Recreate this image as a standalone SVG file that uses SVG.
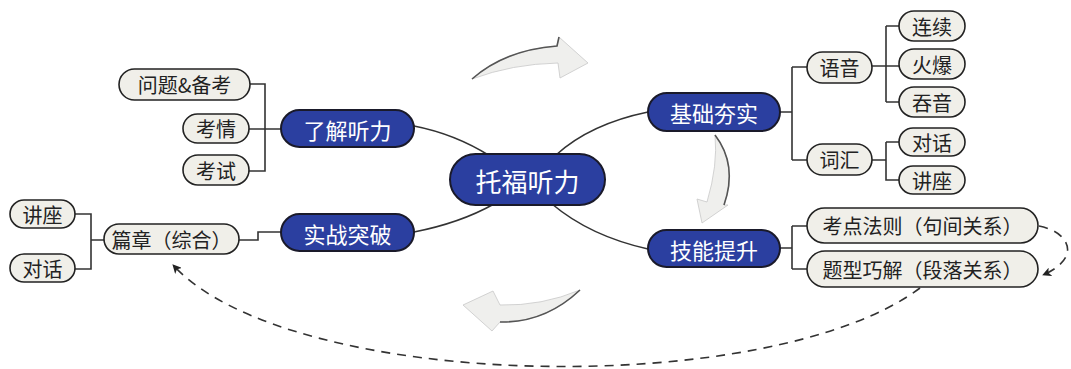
<svg xmlns="http://www.w3.org/2000/svg" width="1071" height="369" viewBox="0 0 1071 369">
<defs>
<style>
.main rect{fill:#2b3fa0;stroke:#1a1a2a;stroke-width:2}
.main text{fill:#fff;font-family:"Noto Sans CJK SC","Noto Sans",sans-serif;text-anchor:middle;dominant-baseline:central}
.leaf rect{fill:#f0efe9;stroke:#222;stroke-width:1.6}
.leaf text{fill:#222;font-family:"Noto Sans CJK SC","Noto Sans",sans-serif;font-size:20px;text-anchor:middle;dominant-baseline:central}
.ln{fill:none;stroke:#333;stroke-width:1.6}
.dash{fill:none;stroke:#333;stroke-width:1.6;stroke-dasharray:9 7}
.garrow{fill:#efefed;stroke:#c8c8c8;stroke-width:0.8}
.gedge{fill:none;stroke:#555;stroke-width:1.6}
</style>
<marker id="ah" viewBox="0 0 10 10" refX="9" refY="5" markerWidth="9" markerHeight="9" markerUnits="userSpaceOnUse" orient="auto">
<path d="M0,0 L10,5 L0,10 L2.5,5 Z" fill="#222"/>
</marker>
</defs>

<g id="cycle-arrows">
<path class="garrow" d="M472,79 Q505,50 557,46 L559,37 L588,63 L560,78 L558,63 Q512,64 472,79 Z"/>
<path class="gedge" d="M472,79 Q505,50 557,46 L559,37"/>
<path class="garrow" d="M715,135 Q738,165 724,205 L728,205 L702,223 L697,199 L707,202 Q718,165 715,135 Z"/>
<path class="gedge" d="M715,135 Q738,165 724,205"/>
<path class="garrow" d="M580,290 Q545,323 500,322 L492,331 L463,305 L493,291 L500,305 Q542,306 580,290 Z"/>
<path class="gedge" d="M580,290 Q545,323 500,322"/>
</g>

<g id="connectors">
<path class="ln" d="M414,126 Q455,134 490,156"/>
<path class="ln" d="M556,155 Q590,124 648,112"/>
<path class="ln" d="M552,204 Q590,236 648,249"/>
<path class="ln" d="M494,204 Q460,223 414,232"/>
<path class="ln" d="M250,84 H265 V171 H249 M249,129 H281"/>
<path class="ln" d="M75,214 H91 V269 H75 M91,240 H104"/>
<path class="ln" d="M239,240 H258 V232 H281"/>
<path class="ln" d="M780,112 H792 M792,67 V160 M792,67 H807 M792,160 H807"/>
<path class="ln" d="M872,66 H899 M886,26 V102 M886,26 H899 M886,102 H899"/>
<path class="ln" d="M872,160 H886 M886,142 V180 H899 M886,142 H899"/>
<path class="ln" d="M780,248 H792 M792,226 V269 M792,226 H807 M792,269 H807"/>
<path class="dash" d="M1039,226 C1070,232 1082,258 1043,275" marker-end="url(#ah)"/>
<path class="dash" d="M920,288 C770,400 290,392 173,265" marker-end="url(#ah)"/>
</g>

<g id="n-center" class="main"><rect x="450" y="154" width="155" height="51" rx="25.5"/><text x="527.5" y="180" font-size="26">托福听力</text></g>
<g id="n-liaojie" class="main"><rect x="281" y="110" width="133" height="37" rx="18.5"/><text x="347.5" y="128.5" font-size="22">了解听力</text></g>
<g id="n-shizhan" class="main"><rect x="281" y="214" width="133" height="37" rx="18.5"/><text x="347.5" y="232.5" font-size="22">实战突破</text></g>
<g id="n-jichu" class="main"><rect x="648" y="93" width="132" height="38" rx="19"/><text x="714" y="112" font-size="22">基础夯实</text></g>
<g id="n-jineng" class="main"><rect x="648" y="230" width="132" height="37" rx="18.5"/><text x="714" y="248.5" font-size="22">技能提升</text></g>

<g id="n-wenti" class="leaf"><rect x="119" y="69" width="131" height="31" rx="15.5"/><text x="184.5" y="84.5">问题&amp;备考</text></g>
<g id="n-kaoqing" class="leaf"><rect x="183" y="114" width="66" height="29" rx="14.5"/><text x="216" y="128.5">考情</text></g>
<g id="n-kaoshi" class="leaf"><rect x="183" y="155" width="66" height="30" rx="15"/><text x="216" y="170">考试</text></g>
<g id="n-pianzhang" class="leaf"><rect x="104" y="224" width="135" height="30" rx="15"/><text x="171.5" y="239">篇章（综合）</text></g>
<g id="n-jiangzuo-l" class="leaf"><rect x="10" y="200" width="65" height="28" rx="14"/><text x="42.5" y="214">讲座</text></g>
<g id="n-duihua-l" class="leaf"><rect x="10" y="254" width="65" height="28" rx="14"/><text x="42.5" y="268">对话</text></g>
<g id="n-yuyin" class="leaf"><rect x="807" y="52" width="65" height="31" rx="15.5"/><text x="839.5" y="67.5">语音</text></g>
<g id="n-cihui" class="leaf"><rect x="807" y="144" width="65" height="31" rx="15.5"/><text x="839.5" y="159.5">词汇</text></g>
<g id="n-lianxu" class="leaf"><rect x="899" y="11" width="66" height="30" rx="15"/><text x="932" y="26">连续</text></g>
<g id="n-huobao" class="leaf"><rect x="899" y="49" width="66" height="30" rx="15"/><text x="932" y="64">火爆</text></g>
<g id="n-tunyin" class="leaf"><rect x="899" y="87" width="66" height="30" rx="15"/><text x="932" y="102">吞音</text></g>
<g id="n-duihua-r" class="leaf"><rect x="899" y="128" width="66" height="28" rx="14"/><text x="932" y="142">对话</text></g>
<g id="n-jiangzuo-r" class="leaf"><rect x="899" y="166" width="66" height="28" rx="14"/><text x="932" y="180">讲座</text></g>
<g id="n-kaodian" class="leaf"><rect x="807" y="208" width="231" height="35" rx="17.5"/><text x="922.5" y="225.5">考点法则（句间关系）</text></g>
<g id="n-tixing" class="leaf"><rect x="807" y="251" width="231" height="36" rx="18"/><text x="922.5" y="269">题型巧解（段落关系）</text></g>
</svg>
